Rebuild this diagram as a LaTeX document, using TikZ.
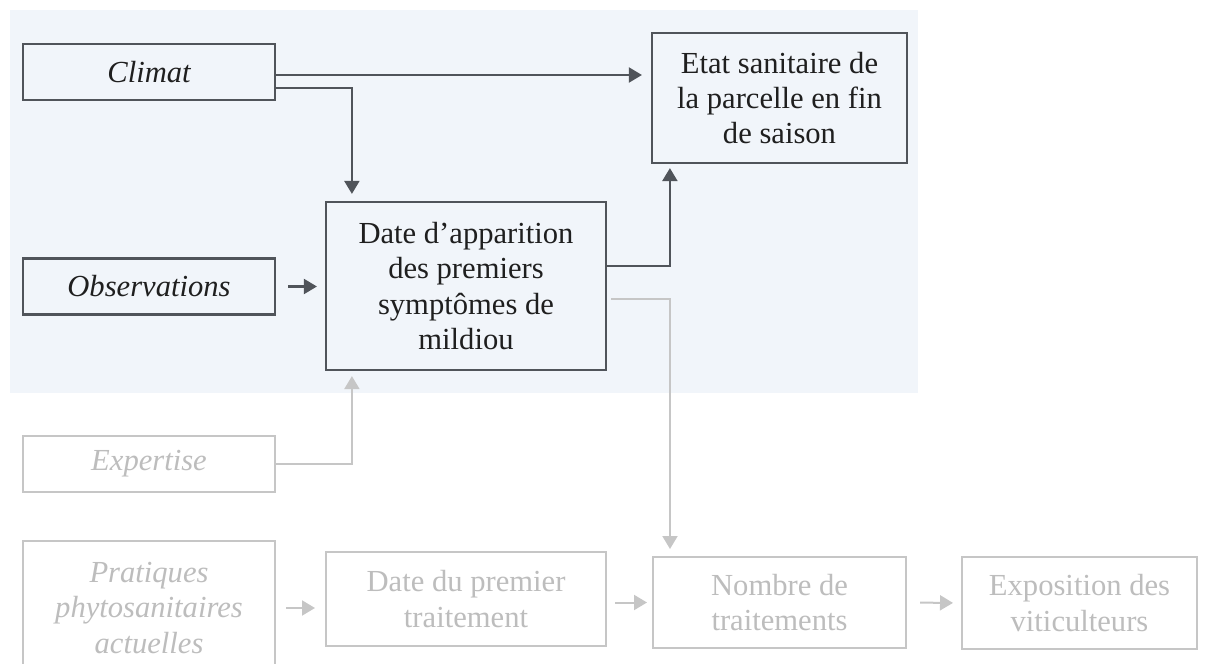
\documentclass[tikz,border=0pt]{standalone}
\usepackage{fontspec}
\setmainfont{Liberation Serif}
\usetikzlibrary{positioning,arrows.meta,calc}
\definecolor{lineDark}{HTML}{50545A}
\definecolor{lineGrey}{HTML}{C6C6C6}
\definecolor{txtGrey}{HTML}{BDBDBD}
\definecolor{bgBlue}{HTML}{F1F5FA}
\tikzset{
  box/.style  ={draw=lineDark, line width=1.1pt, rectangle, align=center, fill=bgBlue, inner sep=0pt, font=\fontsize{15.3}{17.6}\selectfont, text=black!88},
  gbox/.style ={draw=lineGrey, line width=1pt, rectangle, align=center, fill=white, inner sep=0pt, font=\fontsize{15.3}{17.6}\selectfont, text=txtGrey},
  ital/.style ={font=\fontsize{15.3}{17.6}\selectfont\itshape},
  arr/.style  ={-{Triangle[length=6.5pt,width=7.5pt]}, draw=lineDark, line width=1.1pt},
  garr/.style ={-{Triangle[length=6.5pt,width=7.5pt]}, draw=lineGrey, line width=1pt},
}

\begin{document}
\begin{tikzpicture}[x=0.5pt,y=-0.5pt]
  \useasboundingbox (0,0) rectangle (1208,663);
  \clip (0,0) rectangle (1208,663);
  % shaded zone behind the upper part
  \fill[bgBlue] (10,10) rectangle (918,393);

  % upper (highlighted) blocks
  \node[box, ital, minimum width=126pt, minimum height=28pt]   (climat) at (149,72)     {Climat};
  \node[box, ital, minimum width=126pt, minimum height=28pt]   (obs)    at (149,286.5)  {Observations};
  \node[box, minimum width=140pt, minimum height=84pt]         (date)   at (466,286)    {Date d'apparition\\des premiers\\symptômes de\\mildiou};
  \node[box, minimum width=127.5pt, minimum height=65pt]       (etat)   at (779.5,98)   {Etat sanitaire de\\la parcelle en fin\\de saison};

  % lower (greyed) blocks
  \node[gbox, ital, minimum width=126pt, minimum height=28pt]  (expertise) at (149,464)    {Expertise};
  \node[gbox, ital, minimum width=126pt, minimum height=67pt]  (pratiques) at (149,608)    {Pratiques\\phytosanitaires\\actuelles};
  \node[gbox, minimum width=140pt, minimum height=47pt]        (premier)   at (466,599)    {Date du premier\\traitement};
  \node[gbox, minimum width=126.5pt, minimum height=45.5pt]    (nombre)    at (779.5,602.5){Nombre de\\traitements};
  \node[gbox, minimum width=117.5pt, minimum height=46pt]      (expo)      at (1079.5,603) {Exposition des\\viticulteurs};

  % dark links
  \draw[arr, shorten >=4.5pt] ([yshift=-1.5pt]climat.east) -- ([yshift=-1.5pt]climat.east -| etat.west);
  \draw[arr, shorten >=3.5pt] ([yshift=-8pt]climat.east) -| ($(date.north west)+(27,0)$);
  \draw[arr, shorten <=6pt, shorten >=4pt] (obs.east) -- (obs.east -| date.west);
  \draw[arr, shorten >=2pt] ([yshift=10pt]date.east) -| ($(etat.south west)+(19,0)$);

  % grey links
  \draw[garr, shorten <=2pt, shorten >=3.5pt] ([yshift=-6.5pt]date.east) -| ($(nombre.north west)+(18,0)$);
  \draw[garr, shorten >=2.5pt] (expertise.east) -| ($(date.south west)+(27,0)$);
  \draw[garr, shorten <=5pt, shorten >=5pt] (pratiques.east) -- (pratiques.east -| premier.west);
  \draw[garr, shorten <=4pt, shorten >=2.5pt] (premier.east |- nombre.west) -- (nombre.west);
  \draw[garr, shorten <=6.5pt, shorten >=4pt] (nombre.east) -- (expo.west);
\end{tikzpicture}
\end{document}
